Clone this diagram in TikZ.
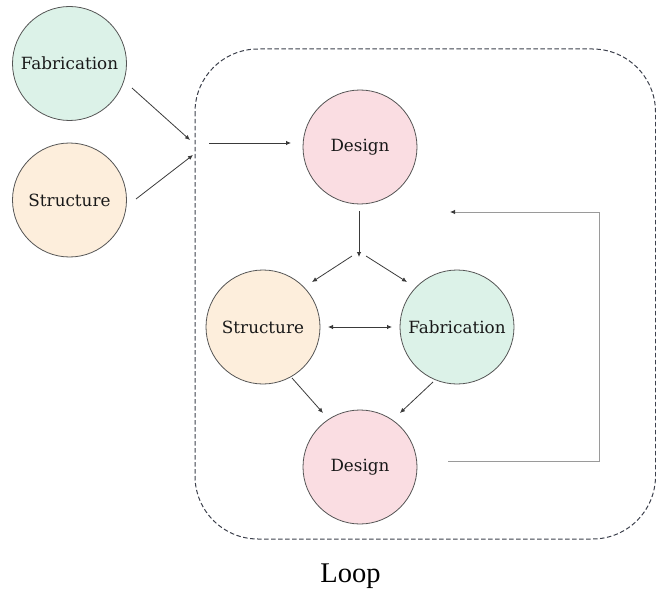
\documentclass[tikz,border=0pt]{standalone}
\usepackage{fontspec}
\setmainfont{Liberation Serif}
\newfontfamily\circfont{DejaVu Serif}
\usetikzlibrary{arrows.meta}
\definecolor{fabfill}{HTML}{DCF2E8}
\definecolor{strfill}{HTML}{FDEEDC}
\definecolor{desfill}{HTML}{FADDE2}
\definecolor{rimgray}{HTML}{555555}
\definecolor{arrowgray}{HTML}{3A3A3A}
\definecolor{loopgray}{HTML}{9A9A9A}
\definecolor{boxgray}{HTML}{3C404C}
\tikzset{
  stage/.style={circle, draw=rimgray, line width=0.8pt, minimum size=114pt, inner sep=0pt,
    font=\circfont\fontsize{16.8}{19}\selectfont, text=black!90},
  fabstage/.style={stage, fill=fabfill},
  strstage/.style={stage, fill=strfill},
  desstage/.style={stage, fill=desfill},
  flow/.style={draw=arrowgray, line width=0.8pt, -{Latex[length=5pt,width=4.5pt]}},
  twoway/.style={draw=arrowgray, line width=0.8pt, {Latex[length=5pt,width=4.5pt]}-{Latex[length=5pt,width=4.5pt]}},
  backflow/.style={draw=loopgray, line width=0.8pt, -{Latex[length=5pt,width=4.5pt,fill=arrowgray,color=arrowgray]}},
  loopbox/.style={draw=boxgray, line width=1pt, dash pattern=on 4.5pt off 2.5pt, rounded corners=63pt},
}
\begin{document}
\begin{tikzpicture}[x=1pt,y=-1pt]
  \useasboundingbox (0,0) rectangle (656,591);

  % dashed boundary of the iteration loop
  \draw[loopbox] (195,49) rectangle (655.5,539);
  \node[font=\fontsize{28.5}{32}\selectfont, anchor=base] (looplabel) at (350.5,582) {Loop};

  % inputs outside the loop
  \node[fabstage] (fabin) at (69.5,63.5) {Fabrication};
  \node[strstage] (strin) at (69.5,200) {Structure};

  % stages inside the loop
  \node[desstage] (destop) at (360,147) {Design};
  \node[strstage] (strmid) at (263,327) {Structure};
  \node[fabstage] (fabmid) at (457,327) {Fabrication};
  \node[desstage] (desbot) at (360,467) {Design};

  % connector end points
  \coordinate (fabout) at (132,88);
  \coordinate (merge1) at (190,140);
  \coordinate (strout) at (136,199);
  \coordinate (merge2) at (193,155);
  \coordinate (entry)  at (209,143);
  \coordinate (desin)  at (291,143);
  \coordinate (desout) at (359,211);
  \coordinate (split)  at (359,257);
  \coordinate (splitl) at (352,256);
  \coordinate (splitr) at (366,256);
  \coordinate (strtop) at (312,282);
  \coordinate (fabtop) at (407,282);
  \coordinate (strright) at (328,327);
  \coordinate (fableft)  at (392,327);
  \coordinate (strlow) at (292,378);
  \coordinate (fablow) at (433,382);
  \coordinate (desl) at (323,413);
  \coordinate (desr) at (400,413);
  \coordinate (retstart) at (448,461);
  \coordinate (retlow) at (599,461);
  \coordinate (rethigh) at (599,212);
  \coordinate (retend) at (450,212);

  \draw[flow] (fabout) -- (merge1);
  \draw[flow] (strout) -- (merge2);
  \draw[flow] (entry) -- (desin);
  \draw[flow] (desout) -- (split);
  \draw[flow] (splitl) -- (strtop);
  \draw[flow] (splitr) -- (fabtop);
  \draw[twoway] (strright) -- (fableft);
  \draw[flow] (strlow) -- (desl);
  \draw[flow] (fablow) -- (desr);
  \draw[backflow] (retstart) -- (retlow) -- (rethigh) -- (retend);
\end{tikzpicture}
\end{document}
